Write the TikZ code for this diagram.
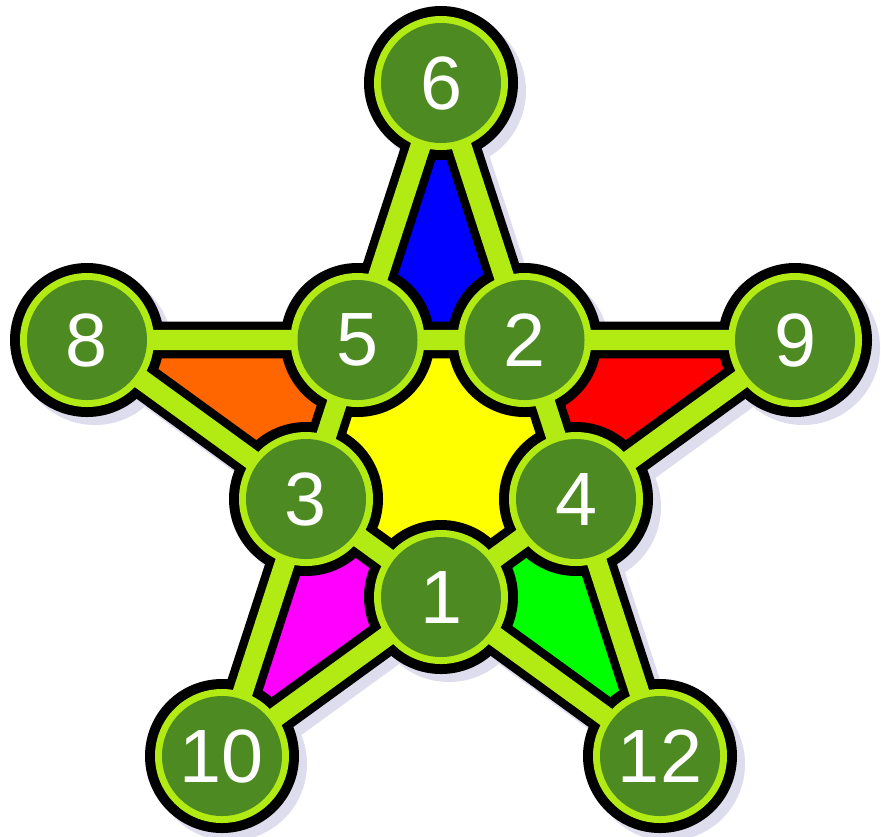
\documentclass[tikz,border=0pt]{standalone}
\usepackage{fontspec}
\setmainfont{Liberation Sans}
\definecolor{limeg}{RGB}{178,235,20}
\definecolor{dkgreen}{RGB}{78,138,34}
\definecolor{shadowc}{RGB}{221,221,238}
\definecolor{orng}{RGB}{255,102,0}
\definecolor{grn}{RGB}{0,255,0}
\definecolor{blu}{RGB}{0,0,255}
\definecolor{rd}{RGB}{255,0,0}
\definecolor{mag}{RGB}{255,0,255}
\definecolor{yel}{RGB}{255,255,0}
\begin{document}
\begin{tikzpicture}[x=0.02cm,y=-0.02cm,
  outerline/.style={line width=21pt},
  innerline/.style={line width=11.4pt, draw=limeg},
  num/.style={circle, fill=dkgreen, minimum size=68.3pt, inner sep=0pt,
    text=white, font=\fontsize{43}{43}\selectfont}]
\useasboundingbox (0,0) rectangle (881,836);
% positions
\coordinate (c6) at (441,83);
\coordinate (c9) at (795,340);
\coordinate (c12) at (660,756);
\coordinate (c10) at (222,756);
\coordinate (c8) at (87,340);
\coordinate (c5) at (357.5,340);
\coordinate (c2) at (524.5,340);
\coordinate (c4) at (576,499);
\coordinate (c1) at (441,597);
\coordinate (c3) at (306,499);
% shadow
\begin{scope}[transform canvas={shift={(8,8)}}]
  \draw[outerline, draw=shadowc] (c8) -- (c9) (c6) -- (c10) (c6) -- (c12) (c8) -- (c12) (c9) -- (c10);
  \foreach \c in {c1,c2,c3,c4,c5,c6,c8,c9,c10,c12}
    \fill[shadowc] (\c) circle [radius=77];
\end{scope}
% colored regions
\fill[blu] (c6) -- (c2) -- (c5) -- cycle;
\fill[rd] (c2) -- (c9) -- (c4) -- cycle;
\fill[grn] (c4) -- (c12) -- (c1) -- cycle;
\fill[mag] (c1) -- (c10) -- (c3) -- cycle;
\fill[orng] (c3) -- (c8) -- (c5) -- cycle;
\fill[yel] (c5) -- (c2) -- (c4) -- (c1) -- (c3) -- cycle;
% black outlines
\draw[outerline, draw=black] (c8) -- (c9) (c6) -- (c10) (c6) -- (c12) (c8) -- (c12) (c9) -- (c10);
\foreach \c in {c1,c2,c3,c4,c5,c6,c8,c9,c10,c12}
  \fill[black] (\c) circle [radius=77];
% lime lines and rings
\draw[innerline] (c8) -- (c9) (c6) -- (c10) (c6) -- (c12) (c8) -- (c12) (c9) -- (c10);
\foreach \c in {c1,c2,c3,c4,c5,c6,c8,c9,c10,c12}
  \fill[limeg] (\c) circle [radius=67];
% nodes
\node[num] (n6) at (c6) {6};
\node[num] (n9) at (c9) {9};
\node[num] (n12) at (c12) {12};
\node[num] (n10) at (c10) {10};
\node[num] (n8) at (c8) {8};
\node[num] (n5) at (c5) {5};
\node[num] (n2) at (c2) {2};
\node[num] (n4) at (c4) {4};
\node[num] (n1) at (c1) {1};
\node[num] (n3) at (c3) {3};
\end{tikzpicture}
\end{document}
